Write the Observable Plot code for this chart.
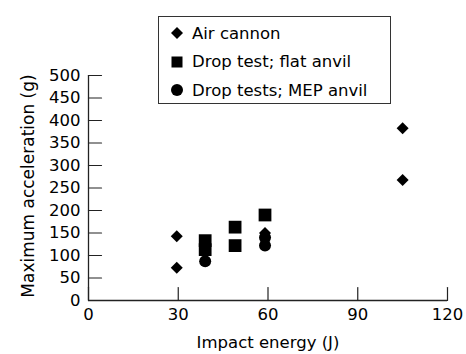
<!DOCTYPE html>
<html><head><meta charset="utf-8">
<script src="https://cdn.jsdelivr.net/npm/d3@7"></script>
<script src="https://cdn.jsdelivr.net/npm/@observablehq/plot@0.6"></script>
<style>
body{margin:0;background:#fff;font-family:"DejaVu Sans",sans-serif;}
#wrap{position:relative;width:466px;height:354px;}
#legend{position:absolute;left:158px;top:16px;width:233px;height:88px;border:1px solid #333;box-sizing:border-box;font-size:16.5px;color:#000;}
#legend .row{position:absolute;left:11px;display:flex;align-items:center;white-space:nowrap;height:20px;}
#legend svg{margin-right:8px;}
</style></head>
<body><div id="wrap"><div id="chart"></div>
<div id="legend"></div></div>
<script>
const seriesNames = ["Air cannon", "Drop test; flat anvil", "Drop tests; MEP anvil"];
const airX = [29.5, 29.5, 59, 105, 105];
const airY = [143, 73, 150, 383, 268];
const flatX = [39, 39, 49, 49, 59];
const flatY = [133, 113, 163, 122, 190];
const mepX = [39, 59, 59];
const mepY = [87, 122, 140];
const xTicks = [0, 30, 60, 90, 120];
const yTicks = [0, 50, 100, 150, 200, 250, 300, 350, 400, 450, 500];

const toRows = (xs, ys) => xs.map((x, i) => ({x, y: ys[i]}));
const air = toRows(airX, airY), flat = toRows(flatX, flatY), mep = toRows(mepX, mepY);

const tickShape = {draw(context, l) { context.moveTo(0, 0); context.lineTo(0, -l); }};
const font = "'DejaVu Sans', sans-serif";
const plot = Plot.plot({
  width: 466, height: 354,
  marginLeft: 88, marginRight: 19, marginTop: 75, marginBottom: 54,
  style: {fontFamily: font, fontSize: "16px", color: "#000", background: "#fff"},
  x: {domain: [0, 120], ticks: xTicks},
  y: {domain: [0, 500], ticks: yTicks},
  marks: [
    Plot.axisX({ticks: xTicks, tickSize: 0, tickPadding: 8, fontSize: 16.5, label: null}),
    Plot.axisY({ticks: yTicks, tickSize: 0, tickPadding: 8, fontSize: 16.5, label: null}),
    Plot.vector(xTicks, {x: d => d, y: 0, length: 13, rotate: 0, anchor: "start", shape: tickShape, stroke: "#222", strokeWidth: 1.2}),
    Plot.vector(yTicks, {x: 0, y: d => d, length: 13, rotate: 90, anchor: "start", shape: tickShape, stroke: "#222", strokeWidth: 1.2}),
    Plot.ruleX([0], {stroke: "#222", strokeWidth: 1.3}),
    Plot.ruleY([0], {stroke: "#222", strokeWidth: 1.3}),
    Plot.dot(air, {x: "x", y: "y", symbol: "diamond2", fill: "#000", stroke: null, r: 5.4}),
    Plot.dot(flat, {x: "x", y: "y", symbol: "square", fill: "#000", stroke: null, r: 7.2}),
    Plot.dot(mep, {x: "x", y: "y", symbol: "circle", fill: "#000", stroke: null, r: 6}),
    Plot.text(["Impact energy (J)"], {frameAnchor: "bottom", textAnchor: "middle", dy: 47, fontSize: 16.5, text: d => d}),
    Plot.text(["Maximum acceleration (g)"], {frameAnchor: "left", textAnchor: "middle", dx: -60, dy: -2, rotate: -90, fontSize: 17, text: d => d})
  ]
});
document.getElementById("chart").appendChild(plot);

const shapes = [
  '<svg width="14" height="14"><path d="M7,1L13,7L7,13L1,7Z" fill="#000"/></svg>',
  '<svg width="14" height="14"><rect x="1.5" y="1.5" width="11" height="11" fill="#000"/></svg>',
  '<svg width="14" height="14"><circle cx="7" cy="7" r="6" fill="#000"/></svg>'
];
const lg = document.getElementById("legend");
seriesNames.forEach((n, i) => {
  const d = document.createElement("div");
  d.className = "row";
  d.style.top = (6 + i * 28.5) + "px";
  d.innerHTML = shapes[i] + "<span>" + n + "</span>";
  lg.appendChild(d);
});
</script></body></html>
